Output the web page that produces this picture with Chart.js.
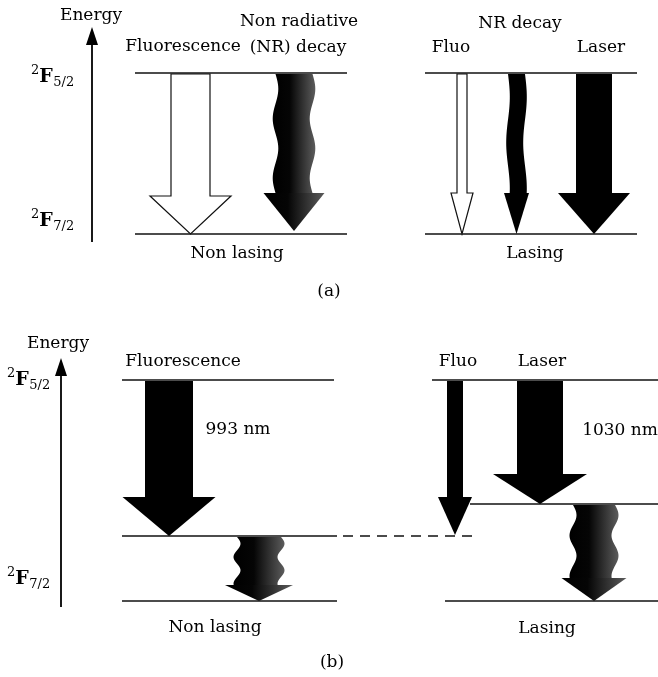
<!DOCTYPE html>
<html>
<head>
<meta charset="utf-8">
<script src="https://cdn.jsdelivr.net/npm/chart.js@4/dist/chart.umd.min.js"></script>
<style>
  body { margin: 0; background: #fff; }
  canvas { display: block; }
</style>
</head>
<body>
<canvas id="levels" width="658" height="677" aria-label="Yb energy levels"></canvas>
<script>
// level lines: [x start, x end, y, dashed]
const levelsA = [
  [135, 347, 73, false], [135, 347, 234, false],
  [425, 637, 73, false], [425, 637, 234, false]
];
const levelsB = [
  [122, 334, 380, false], [122, 337, 536, false], [343, 472, 536, true], [122, 337, 601, false],
  [432, 658, 380, false], [470, 658, 504, false], [445, 658, 601, false]
];

// energy axes: [x, bottom y, tip y]
const energyAxes = [[92, 242, 27], [61, 607, 358]];

// transitions: [centre x, top y, tip y, shaft width, head width, head height, style, wave amp, wave cycles]
const arrowsA = [
  [190.5, 74, 234, 39, 81, 38, 'open'],
  [294, 74, 231, 37, 61, 38, 'shade', 2.8, 2],
  [462, 74, 234, 10, 22, 41, 'open'],
  [516.5, 74, 234, 17, 25, 41, 'wave', 1.8, 1.3],
  [594, 74, 234, 36, 72, 41, 'solid']
];
const arrowsB = [
  [169, 381, 536, 48, 93, 39, 'solid'],
  [259, 537, 601, 44, 68, 16, 'shade', 3.5, 1.8],
  [455, 381, 535, 16, 34, 38, 'solid'],
  [540, 381, 504, 46, 94, 30, 'solid'],
  [594, 505, 601, 42, 65, 23, 'shade', 3.5, 1.8]
];

// captions: [text, centre x, centre y]
const captions = [
  ['Energy', 91, 16], ['Fluorescence', 183, 47], ['Non radiative', 299, 22], ['(NR) decay', 298, 48],
  ['NR decay', 520, 24], ['Fluo', 451, 48], ['Laser', 601, 48],
  ['Non lasing', 237, 254], ['Lasing', 535, 254], ['(a)', 329, 292],
  ['Energy', 58, 344], ['Fluorescence', 183, 362], ['993 nm', 238, 430],
  ['Fluo', 458, 362], ['Laser', 542, 362], ['1030 nm', 620, 431],
  ['Non lasing', 215, 628], ['Lasing', 547, 629], ['(b)', 332, 663]
];

// term symbols: [x, baseline y, J]
const terms = [[31, 82, '5/2'], [31, 226, '7/2'], [7, 385, '5/2'], [7, 584, '7/2']];

const serif = '"DejaVu Serif", serif';

// left-to-right shading used on the non radiative arrows
function shade(ctx, x0, x1) {
  const g = ctx.createLinearGradient(x0, 0, x1, 0);
  g.addColorStop(0, '#000');
  g.addColorStop(0.4, '#050505');
  g.addColorStop(1, '#5c5c5c');
  return g;
}

function drawArrow(ctx, X, Y, [cx, top, tip, sw, hw, hh, style, amp = 0, cycles = 0]) {
  const base = tip - hh;
  const wave = t => amp * Math.sin(t * cycles * 2 * Math.PI);
  const n = 48;

  const shaft = new Path2D();
  for (let i = 0; i <= n; i++) {
    const t = i / n;
    const px = X(cx - sw / 2 + wave(t)), py = Y(top + (base - top) * t);
    i ? shaft.lineTo(px, py) : shaft.moveTo(px, py);
  }
  for (let i = n; i >= 0; i--) {
    const t = i / n;
    shaft.lineTo(X(cx + sw / 2 + wave(t)), Y(top + (base - top) * t));
  }
  shaft.closePath();

  const head = new Path2D();
  head.moveTo(X(cx - hw / 2), Y(base));
  head.lineTo(X(cx), Y(tip));
  head.lineTo(X(cx + hw / 2), Y(base));
  head.closePath();

  if (style === 'open') {
    // one outline around shaft and head
    const outline = new Path2D();
    outline.moveTo(X(cx - sw / 2), Y(top));
    outline.lineTo(X(cx - sw / 2), Y(base));
    outline.lineTo(X(cx - hw / 2), Y(base));
    outline.lineTo(X(cx), Y(tip));
    outline.lineTo(X(cx + hw / 2), Y(base));
    outline.lineTo(X(cx + sw / 2), Y(base));
    outline.lineTo(X(cx + sw / 2), Y(top));
    outline.closePath();
    ctx.fillStyle = '#fff';
    ctx.fill(outline);
    ctx.lineWidth = 1.2;
    ctx.strokeStyle = '#111';
    ctx.stroke(outline);
  } else if (style === 'shade') {
    ctx.fillStyle = shade(ctx, X(cx - sw / 2 - amp), X(cx + sw / 2 + amp));
    ctx.fill(shaft);
    ctx.fillStyle = shade(ctx, X(cx - hw / 2), X(cx + hw / 2));
    ctx.fill(head);
  } else {
    ctx.fillStyle = '#000';
    ctx.fill(shaft);
    ctx.fill(head);
  }
}

function drawTerm(ctx, px, py, j) {
  ctx.textAlign = 'left';
  ctx.textBaseline = 'alphabetic';
  ctx.font = '13px ' + serif;
  ctx.fillText('2', px, py - 8);
  const w2 = ctx.measureText('2').width;
  ctx.font = 'bold 19px ' + serif;
  ctx.fillText('F', px + w2, py);
  const wF = ctx.measureText('F').width;
  ctx.font = '13px ' + serif;
  ctx.fillText(j, px + w2 + wF + 0.5, py + 4);
}

const diagramPlugin = {
  id: 'diagram',
  afterDatasetsDraw(chart) {
    const { ctx, scales: { x, y } } = chart;
    const X = v => x.getPixelForValue(v), Y = v => y.getPixelForValue(v);
    ctx.save();

    // arrow heads on the energy axes
    energyAxes.forEach(([ax, , tipY]) => {
      ctx.beginPath();
      ctx.moveTo(X(ax), Y(tipY));
      ctx.lineTo(X(ax - 6), Y(tipY + 18));
      ctx.lineTo(X(ax + 6), Y(tipY + 18));
      ctx.closePath();
      ctx.fillStyle = '#000';
      ctx.fill();
    });

    [...arrowsA, ...arrowsB].forEach(a => drawArrow(ctx, X, Y, a));

    ctx.fillStyle = '#000';
    ctx.font = '17px ' + serif;
    ctx.textAlign = 'center';
    ctx.textBaseline = 'middle';
    captions.forEach(([t, cx, cy]) => ctx.fillText(t, X(cx), Y(cy)));

    terms.forEach(([tx, ty, j]) => drawTerm(ctx, X(tx), Y(ty), j));
    ctx.restore();
  }
};

const lineSets = [...levelsA, ...levelsB].map(([x0, x1, yv, dashed]) => ({
  data: [{ x: x0, y: yv }, { x: x1, y: yv }],
  showLine: true,
  borderColor: '#111',
  borderWidth: 1.4,
  borderDash: dashed ? [10, 7] : [],
  pointRadius: 0
}));

const axisSets = energyAxes.map(([ax, y0, y1]) => ({
  data: [{ x: ax, y: y0 }, { x: ax, y: y1 + 16 }],
  showLine: true,
  borderColor: '#000',
  borderWidth: 1.8,
  pointRadius: 0
}));

new Chart(document.getElementById('levels'), {
  type: 'scatter',
  data: { datasets: [...lineSets, ...axisSets] },
  options: {
    responsive: false,
    animation: false,
    devicePixelRatio: 1,
    layout: { padding: 0 },
    plugins: {
      legend: { display: false },
      tooltip: { enabled: false }
    },
    scales: {
      x: { type: 'linear', min: 0, max: 658, display: false },
      y: { type: 'linear', min: 0, max: 677, reverse: true, display: false }
    }
  },
  plugins: [diagramPlugin]
});
</script>
</body>
</html>
